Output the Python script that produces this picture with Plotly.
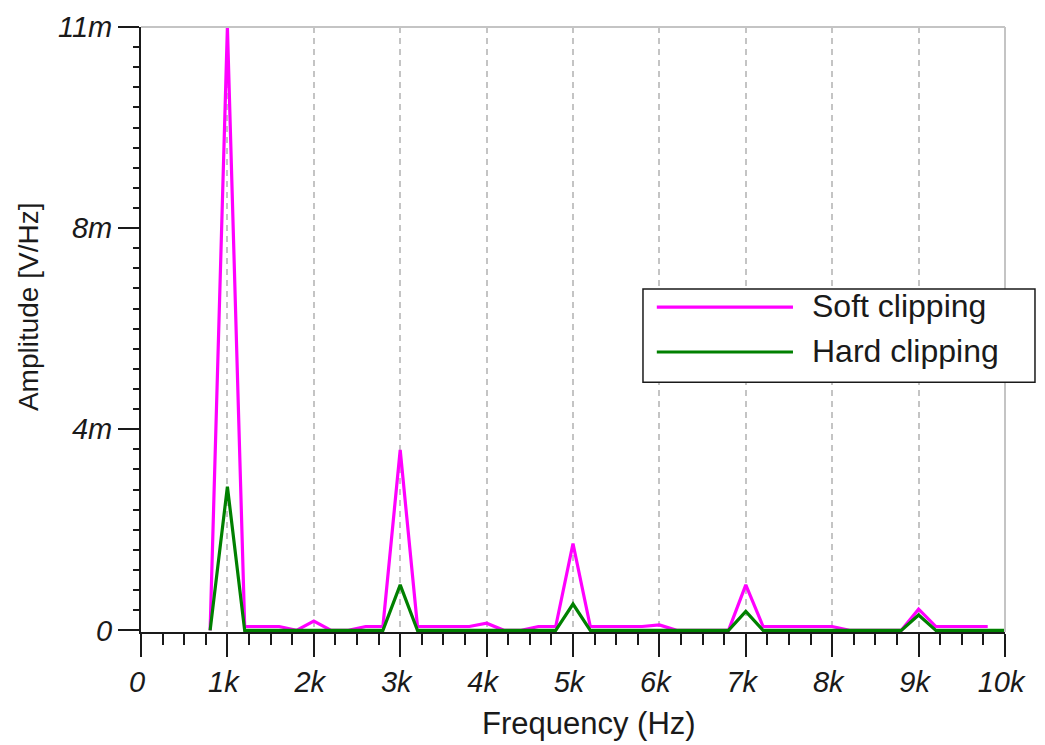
import plotly.graph_objects as go

# Spectrum samples (Hz) and amplitudes (mV/Hz)
freq_hz = [800, 1000, 1200, 1400, 1600, 1800, 2000, 2200, 2400, 2600,
           2800, 3000, 3200, 3400, 3600, 3800, 4000, 4200, 4400, 4600,
           4800, 5000, 5200, 5400, 5600, 5800, 6000, 6200, 6400, 6600,
           6800, 7000, 7200, 7400, 7600, 7800, 8000, 8200, 8400, 8600,
           8800, 9000, 9200, 9400, 9600, 9800, 10000]

soft_mv = [0.0, 11.0, 0.07, 0.07, 0.07, 0.0, 0.17, 0.0, 0.0, 0.07,
           0.07, 3.29, 0.07, 0.07, 0.07, 0.07, 0.13, 0.0, 0.0, 0.07,
           0.07, 1.58, 0.07, 0.07, 0.07, 0.07, 0.10, 0.0, 0.0, 0.0,
           0.0, 0.83, 0.07, 0.07, 0.07, 0.07, 0.07, 0.0, 0.0, 0.0,
           0.0, 0.385, 0.07, 0.07, 0.07, 0.07, None]

hard_mv = [0.0, 2.62, 0.0, 0.0, 0.0, 0.0, 0.0, 0.0, 0.0, 0.0,
           0.0, 0.83, 0.0, 0.0, 0.0, 0.0, 0.0, 0.0, 0.0, 0.0,
           0.0, 0.48, 0.0, 0.0, 0.0, 0.0, 0.0, 0.0, 0.0, 0.0,
           0.0, 0.345, 0.0, 0.0, 0.0, 0.0, 0.0, 0.0, 0.0, 0.0,
           0.0, 0.28, 0.0, 0.0, 0.0, 0.0, 0.0]

series_names = ["Soft clipping", "Hard clipping"]
series_colors = ["#ff00ff", "#008000"]

x_tick_vals = [0, 1000, 2000, 3000, 4000, 5000, 6000, 7000, 8000, 9000, 10000]
x_tick_text = ["0", "1k", "2k", "3k", "4k", "5k", "6k", "7k", "8k", "9k", "10k"]
y_max = 11.0
y_tick_vals = [0, y_max / 3, 2 * y_max / 3, y_max]
y_tick_text = ["0", "4m", "8m", "11m"]

FONT = "Liberation Sans, Arial, sans-serif"
INK = "#1a1a1a"
GRID = "#c4c4c4"

fig = go.Figure()
for name, color, values in zip(series_names, series_colors, [soft_mv, hard_mv]):
    fig.add_trace(go.Scatter(
        x=freq_hz, y=values, mode="lines", name=name,
        line=dict(color=color, width=3.2), connectgaps=False,
        showlegend=False,
    ))

tick_font = dict(family=FONT, size=29, color=INK, style="italic")

fig.update_layout(
    width=1045, height=745,
    margin=dict(l=141, r=40, t=27, b=113),
    paper_bgcolor="white", plot_bgcolor="white",
    showlegend=False,
    xaxis=dict(
        range=[0, 10000], tickmode="array", tickvals=x_tick_vals, ticktext=x_tick_text,
        ticks="outside", ticklen=23, tickwidth=2, tickcolor=INK,
        showline=True, linecolor=INK, linewidth=2, zeroline=False,
        showgrid=True, gridcolor=GRID, gridwidth=1.5, griddash="6px,5px",
        tickfont=tick_font, layer="below traces", ticklabelshift=-4,
        minor=dict(dtick=250, tick0=0, ticks="outside", ticklen=11,
                   tickwidth=2, tickcolor=INK, showgrid=False),
    ),
    yaxis=dict(
        range=[-0.03, y_max], tickmode="array", tickvals=y_tick_vals, ticktext=y_tick_text,
        ticks="outside", ticklen=21, tickwidth=2, tickcolor=INK,
        showline=True, linecolor=INK, linewidth=2, zeroline=False,
        showgrid=False, tickfont=tick_font, layer="below traces",
        minor=dict(tickmode="array", tickvals=[i * y_max / 30 for i in range(31)],
                   ticks="outside", ticklen=6, tickwidth=2, tickcolor=INK, showgrid=False),
    ),
    # companion axis: horizontal grid lines and mid-interval ticks
    yaxis2=dict(
        overlaying="y", side="left", range=[-0.03, y_max],
        tickmode="array", tickvals=y_tick_vals[1:3], ticks="", showticklabels=False,
        showline=False, zeroline=False,
        showgrid=True, gridcolor=GRID, gridwidth=1.5, griddash="6px,5px",
        minor=dict(tickmode="array",
                   tickvals=[y_max / 6, y_max / 2, 5 * y_max / 6],
                   ticks="outside", ticklen=11, tickwidth=2, tickcolor=INK, showgrid=False),
    ),
)

# plot frame on the top and right
fig.add_shape(type="line", xref="paper", yref="paper", x0=0, x1=1, y0=1, y1=1,
              line=dict(color=GRID, width=2), layer="above")
fig.add_shape(type="line", xref="paper", yref="paper", x0=1, x1=1, y0=0, y1=1,
              line=dict(color=GRID, width=2), layer="above")

# legend panel
fig.add_shape(type="rect", xref="paper", yref="paper",
              x0=0.581, x1=1.0347, y0=0.413, y1=0.567,
              line=dict(color=INK, width=1.5), fillcolor="white", layer="above")
legend_rows = [0.537, 0.4628]
for name, color, yrow in zip(series_names, series_colors, legend_rows):
    fig.add_shape(type="line", xref="paper", yref="paper",
                  x0=0.597, x1=0.7546, y0=yrow, y1=yrow,
                  line=dict(color=color, width=3.2), layer="above")
    fig.add_annotation(xref="paper", yref="paper", x=0.774, y=yrow, yshift=1,
                       xanchor="left", yanchor="middle", text=name, showarrow=False,
                       font=dict(family=FONT, size=32, color=INK))

# axis titles
fig.add_annotation(xref="paper", yref="paper", x=0.519, y=0, yshift=-91,
                   xanchor="center", yanchor="middle", text="Frequency (Hz)",
                   showarrow=False, font=dict(family=FONT, size=31, color=INK))
fig.add_annotation(xref="paper", yref="paper", x=0, xshift=-113, y=0.537,
                   xanchor="center", yanchor="middle", text="Amplitude [V/Hz]",
                   textangle=-90, showarrow=False,
                   font=dict(family=FONT, size=28, color=INK))

fig.write_html("out.html")
